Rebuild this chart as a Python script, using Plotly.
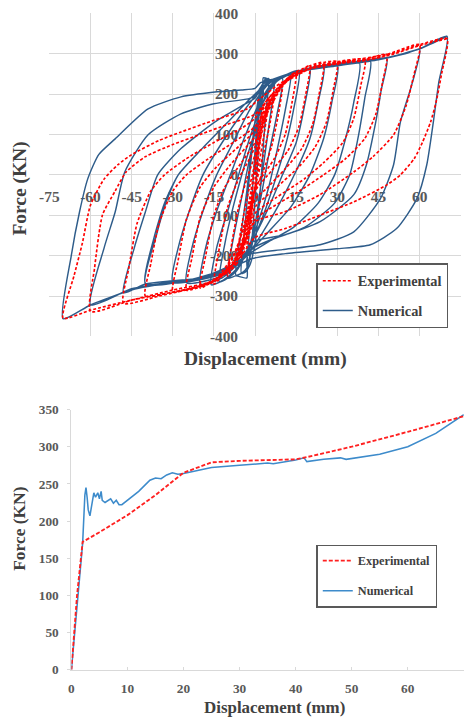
import plotly.graph_objects as go

# ---------------- Top chart: hysteresis loops ----------------
num_points = [
    (0, 0), (1, 110), (2, 190), (3, 228), (2, 130), (1, 40), (0, -60), (-1, -150), (-2, -210), (-3, -232),
    (-2, -130), (-1, -40), (0, 60), (1, 150), (2, 210), (3, 228),
    (4, 236), (5, 238), (4, 160), (3, 70), (2, -30), (0, -170), (-2, -225), (-3.5, -240), (-5, -244),
    (-4, -150), (-2, 0), (0, 130), (2, 215), (3, 228), (4, 240), (5, 225), (6, 232), (7, 232),
    (5, 120), (3, 20), (1, -80), (-1, -170), (-3, -230), (-5, -244), (-7, -248),
    (-5, -140), (-3, -40), (-1, 80), (1, 180), (3, 228), (5, 232), (7, 234), (10, 238),
    (8, 150), (5, 50), (2, -60), (-1, -150), (-3, -210), (-3, -255), (-7, -250), (-10, -256),
    (-8, -160), (-5, -60), (-2, 40), (1, 140), (3, 200), (3, 240), (6, 234), (10, 240), (13, 250),
    (11, 160), (8, 60), (5, -30), (1, -120), (-3, -190), (-7, -240), (-13, -265),
    (-11, -170), (-8, -80), (-4, 20), (0, 110), (4, 200), (8, 235), (16, 258),
    (14, 160), (11, 70), (7, -20), (3, -100), (-2, -180), (-7, -235), (-12, -262), (-16, -272),
    (-14, -180), (-10, -90), (-6, 0), (-2, 90), (3, 180), (8, 232), (15, 255), (20, 263),
    (18, 170), (15, 80), (10, 0), (5, -80), (0, -150), (-5, -210), (-12, -255), (-20, -270),
    (-18, -180), (-14, -90), (-9, 0), (-4, 90), (1, 170), (6, 225), (15, 255), (25, 268),
    (23, 180), (20, 90), (15, 10), (9, -70), (3, -140), (-3, -200), (-12, -250), (-25, -267),
    (-23, -180), (-19, -90), (-14, 0), (-8, 80), (-2, 160), (5, 225), (15, 255), (30, 272),
    (28, 180), (25, 90), (20, 0), (13, -80), (5, -140), (-2, -190), (-12, -245), (-30, -265),
    (-28, -180), (-24, -90), (-19, 0), (-12, 80), (-5, 150), (2, 210), (8, 240), (25, 268), (38, 278),
    (36, 180), (33, 90), (29, 0), (23, -70), (14, -130), (5, -165), (-2, -195), (-10, -235), (-25, -262), (-40, -268),
    (-37, -160), (-33, -70), (-28, 0), (-20, 60), (-10, 130), (-3, 180), (0, 200), (5, 230), (15, 255), (30, 270), (42, 283),
    (40, 190), (37.5, 90), (34.5, 0), (29, -70), (18, -130), (6, -160), (-2, -185), (-10, -230), (-25, -262), (-40, -270),
    (-36, -150), (-32, -60), (-28, 0), (-20, 60), (-10, 130), (-3, 180), (0, 200), (5, 230), (15, 255), (30, 270), (40, 282), (48, 288),
    (46, 210), (44, 131), (40.6, 25), (36, -49), (23.7, -116), (11, -148), (-1, -166), (-5, -210), (-15, -250), (-30, -262), (-40, -270), (-48, -292),
    (-44, -180), (-40, -92), (-35.5, 0), (-27, 65), (-14.6, 131), (-5, 170), (0, 190), (3, 225), (15, 255), (30, 270), (45, 285), (55, 300), (60, 310),
    (57, 220), (53, 131), (50.5, 25), (45.7, -59), (36, -141), (23.7, -173), (10, -185), (-1, -195), (-10, -228), (-20, -255), (-30, -264), (-45, -282), (-60, -322),
    (-55, -180), (-51, -92), (-47.5, 7), (-39, 99), (-27, 151), (-15, 176), (-2.5, 188), (0, 195), (3, 225), (15, 255), (30, 272), (48, 290), (60, 312), (70, 343),
    (67, 230), (65, 131), (62.6, 25), (59, -59), (51.6, -133), (42, -173), (29.7, -183), (11, -195), (-1, -207), (-10, -235), (-20, -258), (-30, -266), (-45, -285), (-60, -322), (-70, -356),
    (-67, -200), (-64, -92), (-61, -10), (-57, 50), (-51, 89), (-39, 163), (-27, 193), (-14.6, 205), (-5, 210), (0, 214), (2, 228), (10, 242), (20, 262), (30, 272), (40, 282), (48, 290), (60, 312), (70, 343),
]

exp_points = [
    (0, 0), (1.5, 120), (3, 170), (2, 90), (0, -20), (-1.5, -110), (-3, -180), (-2, -90), (0, 20), (1.5, 120), (3, 170),
    (4, 182), (5, 190), (3.5, 110), (1.5, 30), (0, -30), (-2, -110), (-4, -180), (-5, -205),
    (-3.5, -120), (-1.5, -40), (0, 20), (2, 100), (4, 160), (5, 190),
    (6, 198), (7, 205), (5.5, 130), (3, 50), (0, -30), (-3, -120), (-5, -190), (-7, -225),
    (-5.5, -150), (-3, -60), (0, 30), (3, 120), (5, 170), (7, 205),
    (8.5, 215), (10, 225), (8.5, 150), (6, 70), (3, 10), (0, -40), (-3, -120), (-6, -200), (-10, -250),
    (-8.5, -170), (-6, -80), (-3, -10), (0, 50), (3, 130), (6, 190), (10, 225),
    (12, 240), (15, 255), (13.5, 180), (11, 100), (7, 40), (2, -10), (0, -30), (-3, -100), (-7, -190), (-12, -250), (-15, -270),
    (-13, -180), (-10, -80), (-6, -10), (-2, 40), (0, 70), (4, 150), (8, 210), (12, 240), (15, 255),
    (17.5, 263), (20, 270), (18.5, 200), (16, 120), (12, 60), (6, 10), (0, -40), (-3, -110), (-8, -200), (-14, -255), (-20, -280),
    (-18, -200), (-15, -100), (-11, -30), (-5, 30), (0, 80), (5, 160), (10, 220), (15, 250), (20, 270),
    (25, 278), (23.5, 205), (21, 125), (17, 65), (11, 15), (4, -35), (0, -60), (-3, -130), (-8, -215), (-15, -262), (-25, -285),
    (-23, -205), (-20, -105), (-15, -30), (-9, 25), (0, 95), (5, 170), (12, 235), (20, 265), (25, 278),
    (30, 280), (28.5, 210), (26, 130), (22, 70), (16, 20), (8, -30), (0, -80), (-3, -140), (-8, -220), (-16, -265), (-25, -283), (-30, -290),
    (-28, -210), (-25, -110), (-20, -30), (-14, 20), (-6, 70), (0, 110), (5, 175), (12, 235), (22, 268), (30, 280),
    (40, 285), (38.5, 220), (36, 140), (32, 80), (25, 30), (18, -10), (8, -55), (0, -95), (-3, -150), (-8, -230), (-18, -272), (-30, -290), (-40, -300),
    (-38, -220), (-35, -120), (-30, -40), (-25, 0), (-17, 40), (-8, 80), (0, 120), (5, 180), (12, 235), (22, 268), (32, 280), (40, 285),
    (48, 298), (46.5, 230), (44, 150), (40, 90), (33, 40), (25, 0), (15, -45), (5, -85), (0, -110), (-4, -170), (-10, -240), (-20, -275), (-35, -300), (-48, -318),
    (-46, -230), (-43, -120), (-38, -40), (-33, 0), (-25, 40), (-15, 80), (-5, 115), (0, 140), (5, 190), (12, 240), (20, 262), (35, 283), (48, 298),
    (60, 322), (58, 250), (55, 170), (50.5, 99), (43, 45), (36, 7), (23.7, -49), (11, -91), (0, -116), (-3, -160), (-8, -220), (-15, -262), (-30, -285), (-45, -310), (-60, -338),
    (-58.5, -230), (-55.6, -99), (-51, -40), (-47, 7), (-40, 45), (-30, 75), (-20, 100), (-10, 125), (0, 150), (5, 190), (10, 225), (20, 262), (30, 275), (45, 290), (60, 322),
    (70, 337), (68, 250), (66, 180), (64, 131), (61, 80), (58, 40), (53, 0), (48, -25), (36, -67), (24, -99), (11, -133), (0, -155), (-5, -200), (-15, -265), (-30, -290), (-45, -310), (-60, -335), (-70, -355),
    (-66, -250), (-63, -170), (-60, -75), (-55, -10), (-50, 25), (-45, 50), (-35, 85), (-27, 106), (-15, 135), (-3, 163), (3, 195), (10, 230), (20, 262), (30, 275), (40, 283), (50, 298), (60, 320), (70, 337),
]

# ---------------- Bottom chart: envelope (backbone) curves ----------------
bb_num_disp = [0, 1, 2, 2.4, 2.6, 2.8, 3, 3.3, 3.6, 4, 4.3, 4.7, 5, 5.3, 5.5, 6, 7, 7.5, 8, 8.5, 9, 10, 12, 14, 15, 16, 17, 18,
               19, 20, 25, 30, 35, 36, 40, 41.5, 42, 45, 48, 49, 55, 60, 65, 70]
bb_num_force = [0, 80, 170, 235, 245, 232, 215, 207, 220, 238, 232, 238, 230, 240, 228, 225, 230, 224, 228, 222, 222, 228, 240, 255, 258, 257, 262, 265,
                263, 264, 272, 275, 278, 277, 282, 285, 280, 283, 285, 283, 290, 300, 318, 343]
bb_exp_disp = [0, 1, 2, 5, 10, 15, 20, 25, 30, 40, 42, 50, 60, 70]
bb_exp_force = [0, 100, 172, 185, 208, 235, 265, 279, 281, 283, 286, 300, 320, 341]

top_xticks = [-75, -60, -45, -30, -15, 0, 15, 30, 45, 60, 75]
top_yticks = [-400, -300, -200, -100, 0, 100, 200, 300, 400]
bot_xticks = [0, 10, 20, 30, 40, 50, 60, 70]
bot_yticks = [0, 50, 100, 150, 200, 250, 300, 350]

num_x = [p[0] for p in num_points]
num_y = [p[1] for p in num_points]
exp_x = [p[0] for p in exp_points]
exp_y = [p[1] for p in exp_points]


def bold(vals):
    return ["<b>%s</b>" % v for v in vals]


# Page geometry: the body keeps an 8px margin and the photographed page area
# is slightly larger than the window, so positions (given in window pixels of
# the target picture) are mapped into figure paper fractions here.
OFF = 8
W, H = 464, 720
SX, SY = 468 / 480, 718 / 736
K = 1 / SX  # compensates the photo's down-scaling for sizes


def px(rx):
    return (rx / SX - OFF) / W


def py(ry):
    return 1 - (ry / SY - OFF) / H


SERIF = "Liberation Serif"

fig = go.Figure()
fig.add_trace(go.Scatter(x=num_x, y=num_y, mode="lines", name="Numerical",
                         line=dict(color="#2E5C8A", width=1.45, shape="spline", smoothing=0.6),
                         xaxis="x", yaxis="y", legend="legend", legendgroup="n1", legendrank=2))
fig.add_trace(go.Scatter(x=exp_x, y=exp_y, mode="lines", name="Experimental",
                         line=dict(color="#FF0000", width=1.65, dash="3px,2px", shape="spline", smoothing=0.6),
                         xaxis="x", yaxis="y", legend="legend", legendgroup="e1", legendrank=1))

fig.add_trace(go.Scatter(x=bb_num_disp, y=bb_num_force, mode="lines", name="Numerical",
                         line=dict(color="#3D8BCB", width=1.55),
                         xaxis="x2", yaxis="y2", legend="legend2", legendgroup="n2", legendrank=2))
fig.add_trace(go.Scatter(x=bb_exp_disp, y=bb_exp_force, mode="lines", name="Experimental",
                         line=dict(color="#FF2020", width=1.85, dash="4px,2px"),
                         xaxis="x2", yaxis="y2", legend="legend2", legendgroup="e2", legendrank=1))

x1d = [px(47), px(457)]
y1d = [py(335), py(12)]
x2d = [px(69), px(460)]
y2d = [py(668), py(408)]

tickf_top = dict(family=SERIF, size=15 * K, color="#595959")
tickf_bot = dict(family=SERIF, size=13 * K, color="#595959")
grid = "#D9D9D9"

fig.update_layout(
    width=W, height=H, margin=dict(l=0, r=0, t=0, b=0),
    paper_bgcolor="white", plot_bgcolor="white",
    font=dict(family=SERIF, color="#595959"),
    xaxis=dict(domain=x1d, range=[-75, 75], tickmode="array", tickvals=top_xticks, ticktext=bold(top_xticks),
               anchor="free", position=(y1d[0] + y1d[1]) / 2,
               showgrid=True, gridcolor=grid, gridwidth=1, zeroline=False, showline=False,
               ticks="", ticklabelstandoff=11, tickfont=tickf_top, layer="below traces"),
    yaxis=dict(domain=y1d, range=[-400, 400], tickmode="array", tickvals=top_yticks, ticktext=bold(top_yticks),
               anchor="free", position=px(252),
               showgrid=True, gridcolor=grid, gridwidth=1, zeroline=False, showline=False,
               ticks="", ticklabelstandoff=17, tickfont=tickf_top, layer="below traces"),
    xaxis2=dict(domain=x2d, range=[0, 70], tickmode="array", tickvals=bot_xticks, ticktext=bold(bot_xticks),
                anchor="y2", showgrid=False, zeroline=False, showline=True, linecolor=grid, linewidth=1,
                ticks="inside", ticklen=3, tickcolor=grid, tickfont=tickf_bot, ticklabelstandoff=6),
    yaxis2=dict(domain=y2d, range=[0, 350], tickmode="array", tickvals=bot_yticks, ticktext=bold(bot_yticks),
                anchor="x2", showgrid=False, zeroline=False, showline=True, linecolor=grid, linewidth=1,
                ticks="outside", ticklen=3, tickcolor=grid, tickfont=tickf_bot, ticklabelstandoff=6),
    legend=dict(x=px(313), y=py(262), xanchor="left", yanchor="top",
                bgcolor="white", bordercolor="#595959", borderwidth=1.5,
                font=dict(family=SERIF, size=14 * K, color="#404040", weight="bold"),
                tracegroupgap=8, itemwidth=30),
    legend2=dict(x=px(313), y=py(543), xanchor="left", yanchor="top",
                 bgcolor="white", bordercolor="#595959", borderwidth=1.5,
                 font=dict(family=SERIF, size=12 * K, color="#404040", weight="bold"),
                 tracegroupgap=11, itemwidth=30),
    showlegend=True,
)

title_font = dict(family=SERIF, color="#404040", weight="bold")
for txt, rx, ry, ang, sz in [
    ("Force (KN)", 18, 187, -90, 19),
    ("Displacement (mm)", 262, 358, 0, 19),
    ("Force (KN)", 16, 527, -90, 17),
    ("Displacement (mm)", 271, 706, 0, 16.5),
]:
    fig.add_annotation(text=txt, x=px(rx), y=py(ry), xref="paper", yref="paper",
                       xanchor="center", yanchor="middle", textangle=ang, showarrow=False,
                       font=dict(title_font, size=sz * K))

fig.write_html("out.html")
